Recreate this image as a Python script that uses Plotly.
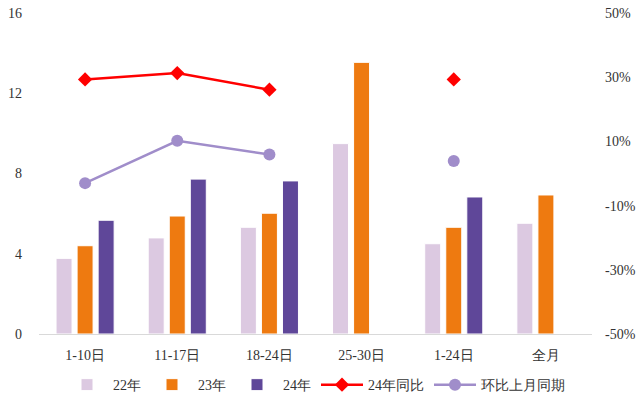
import plotly.graph_objects as go

categories = ["1-10日", "11-17日", "18-24日", "25-30日", "1-24日", "全月"]
y22 = [3.77, 4.79, 5.32, 9.49, 4.50, 5.52]
y23 = [4.40, 5.88, 6.02, 13.54, 5.32, 6.93]
y24 = [5.67, 7.72, 7.63, None, 6.83, None]
yoy24 = [29.3, 31.3, 26.1, None, 29.3, None]
mom = [-3.0, 10.2, 5.9, None, 3.9, None]

left_ticks = [0, 4, 8, 12, 16]
right_ticks = [-50, -30, -10, 10, 30, 50]
right_labels = [f"{v}%" for v in right_ticks]

FONT = "Liberation Serif"
TXT = "#333333"
tf = dict(family=FONT, size=14, color=TXT)

fig = go.Figure()
fig.add_trace(go.Bar(x=categories, y=y22, name="22年", marker=dict(color="#DCC9E1", line=dict(color="white", width=1))))
fig.add_trace(go.Bar(x=categories, y=y23, name="23年", marker=dict(color="#EE7A10", line=dict(color="white", width=1))))
fig.add_trace(go.Bar(x=categories, y=y24, name="24年", marker=dict(color="#5F4799", line=dict(color="white", width=1))))
fig.add_trace(go.Scatter(x=categories, y=yoy24, name="24年同比", yaxis="y2", mode="lines+markers",
                         line=dict(color="#FF0000", width=2.5), marker=dict(symbol="diamond", size=11, color="#FF0000"),
                         connectgaps=False))
fig.add_trace(go.Scatter(x=categories, y=mom, name="环比上月同期", yaxis="y2", mode="lines+markers",
                         line=dict(color="#A08DCA", width=2.5), marker=dict(symbol="circle", size=12, color="#A08DCA"),
                         connectgaps=False))

fig.update_layout(
    template="simple_white",
    width=638, height=401,
    margin=dict(l=39, r=46, t=13, b=67, autoexpand=False),
    paper_bgcolor="white", plot_bgcolor="white",
    font=tf,
    barmode="group", bargap=0.315, bargroupgap=0.24,
    showlegend=True,
    legend=dict(orientation="h", x=0.5, xanchor="center", y=-0.159, yanchor="middle",
                font=tf, itemwidth=42, tracegroupgap=0),
    xaxis=dict(showline=True, linecolor="#D9D9D9", linewidth=1, ticks="", showgrid=False,
               tickfont=tf, automargin=False, ticklabelstandoff=8),
    yaxis=dict(range=[0, 16], tickmode="array", tickvals=left_ticks, ticktext=[str(v) for v in left_ticks],
               showgrid=False, zeroline=False, showline=False, ticks="", ticklabelstandoff=16, tickfont=tf,
               automargin=False),
    yaxis2=dict(range=[-50, 50], tickmode="array", tickvals=right_ticks, ticktext=right_labels,
                overlaying="y", side="right", showgrid=False, zeroline=False, showline=False, ticks="",
                ticklabelstandoff=12, tickfont=tf, automargin=False),
)

fig.write_html("out.html")
